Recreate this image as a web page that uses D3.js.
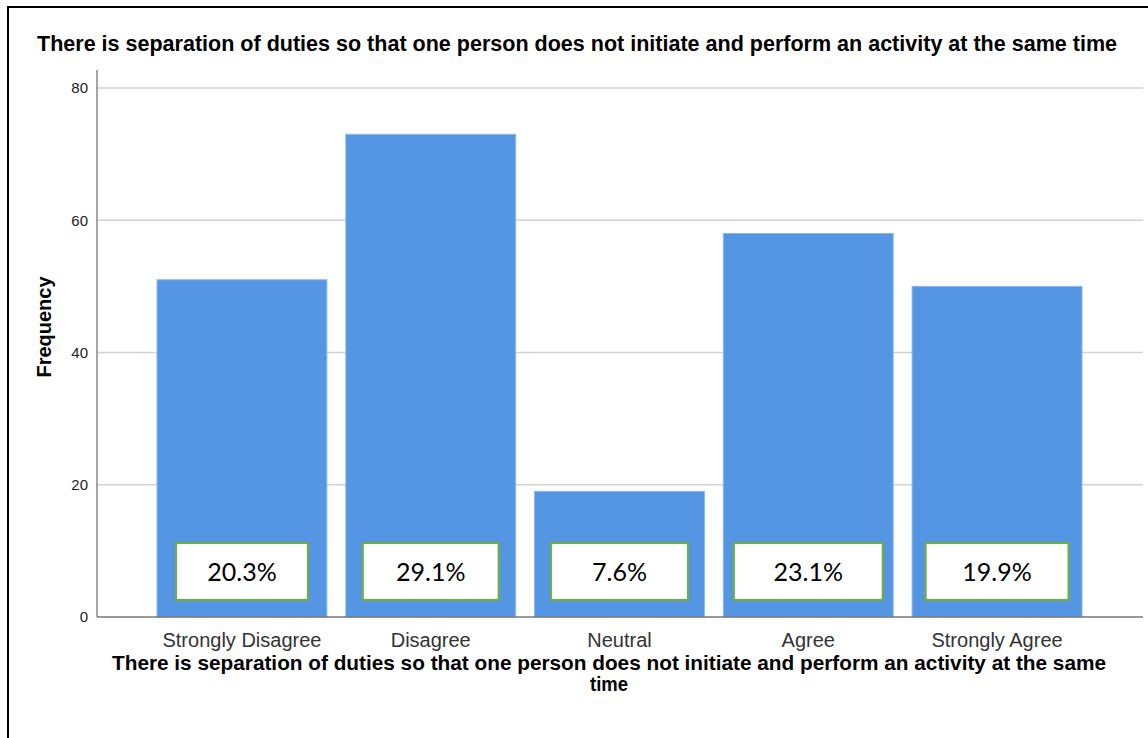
<!DOCTYPE html>
<html>
<head>
<meta charset="utf-8">
<script src="https://cdn.jsdelivr.net/npm/d3@7"></script>
<style>
  body { margin: 0; background: #fff; }
  svg { display: block; }
</style>
</head>
<body>
<svg width="1148" height="738"></svg>
<script>
// Responses and counts
var categories = ["Strongly Disagree", "Disagree", "Neutral", "Agree", "Strongly Agree"];
var counts = [51, 73, 19, 58, 50];
var percentLabels = ["20.3%", "29.1%", "7.6%", "23.1%", "19.9%"];
var yTicks = [0, 20, 40, 60, 80];
var boxWidths = [132, 136, 137, 149, 143];

var question = "There is separation of duties so that one person does not initiate and perform an activity at the same time";

var svg = d3.select("svg"),
    width = +svg.attr("width"),
    height = +svg.attr("height");

// frame round the whole chart
svg.append("rect")
    .attr("x", 8).attr("y", 7)
    .attr("width", 1200).attr("height", 800)
    .attr("fill", "none")
    .attr("stroke", "#000")
    .attr("stroke-width", 2);

var axisLeft = 97, axisRight = 1143;

var x = d3.scaleBand()
    .domain(categories)
    .range([157, 1082])
    .paddingInner(0.1)
    .paddingOuter(0);

var y = d3.scaleLinear()
    .domain([0, 80])
    .range([617, 88]);

// gridlines
svg.append("g")
    .selectAll("line")
    .data(yTicks.filter(d => d > 0))
    .enter()
    .append("line")
    .attr("x1", axisLeft).attr("x2", axisRight)
    .attr("y1", d => y(d)).attr("y2", d => y(d))
    .attr("stroke", "#d2d2d2")
    .attr("stroke-width", 1.5);

// bars
svg.append("g")
    .selectAll("rect")
    .data(counts)
    .enter()
    .append("rect")
    .attr("x", (d, i) => x(categories[i]))
    .attr("y", d => y(d))
    .attr("width", x.bandwidth())
    .attr("height", d => y(0) - y(d))
    .attr("fill", "#5596e4")
    .attr("stroke", "#8db8ee")
    .attr("stroke-width", 1);

// y axis
var yAxis = svg.append("g")
    .attr("transform", "translate(" + axisLeft + ",0)")
    .call(d3.axisLeft(y).tickValues(yTicks).tickSize(0).tickPadding(9));
yAxis.select(".domain").remove();
yAxis.selectAll("text")
    .attr("font-family", "Liberation Sans, Arial, sans-serif")
    .attr("font-size", 15)
    .attr("fill", "#222");

svg.append("line")
    .attr("x1", axisLeft).attr("x2", axisLeft)
    .attr("y1", 70).attr("y2", y(0))
    .attr("stroke", "#888")
    .attr("stroke-width", 1.5);

// x axis
var xAxis = svg.append("g")
    .attr("transform", "translate(0," + y(0) + ")")
    .call(d3.axisBottom(x).tickSize(0).tickPadding(16));
xAxis.select(".domain").remove();
xAxis.selectAll("text")
    .attr("font-family", "Liberation Sans, Arial, sans-serif")
    .attr("font-size", 20)
    .attr("fill", "#333");

svg.append("line")
    .attr("x1", axisLeft).attr("x2", axisRight)
    .attr("y1", y(0)).attr("y2", y(0))
    .attr("stroke", "#777")
    .attr("stroke-width", 1.5);

// percentage boxes
var boxes = svg.append("g")
    .selectAll("g")
    .data(percentLabels)
    .enter()
    .append("g")
    .attr("transform", (d, i) => "translate(" + (x(categories[i]) + x.bandwidth() / 2) + ",0)");

boxes.append("rect")
    .attr("x", (d, i) => -boxWidths[i] / 2)
    .attr("y", 543)
    .attr("width", (d, i) => boxWidths[i])
    .attr("height", 57)
    .attr("fill", "#fff")
    .attr("stroke", "#70ad47")
    .attr("stroke-width", 2.2);

boxes.append("text")
    .attr("x", 0)
    .attr("y", 581)
    .attr("text-anchor", "middle")
    .attr("font-family", "Lato, Carlito, Calibri, sans-serif")
    .attr("font-size", 25)
    .attr("fill", "#000")
    .text(d => d);

// titles
svg.append("text")
    .attr("x", 577)
    .attr("y", 51)
    .attr("text-anchor", "middle")
    .attr("font-family", "Liberation Sans, Arial, sans-serif")
    .attr("font-weight", "bold")
    .attr("font-size", 22)
    .attr("textLength", 1080)
    .attr("lengthAdjust", "spacingAndGlyphs")
    .text(question);

svg.append("text")
    .attr("transform", "translate(51,327) rotate(-90)")
    .attr("text-anchor", "middle")
    .attr("font-family", "Liberation Sans, Arial, sans-serif")
    .attr("font-weight", "bold")
    .attr("font-size", 20)
    .text("Frequency");

var words = question.split(" ");
svg.append("text")
    .attr("x", 609)
    .attr("y", 670)
    .attr("text-anchor", "middle")
    .attr("font-family", "Liberation Sans, Arial, sans-serif")
    .attr("font-weight", "bold")
    .attr("font-size", 21)
    .attr("textLength", 994)
    .attr("lengthAdjust", "spacingAndGlyphs")
    .text(words.slice(0, -1).join(" "));

svg.append("text")
    .attr("x", 609)
    .attr("y", 691)
    .attr("text-anchor", "middle")
    .attr("font-family", "Liberation Sans, Arial, sans-serif")
    .attr("font-weight", "bold")
    .attr("font-size", 21)
    .attr("textLength", 38)
    .attr("lengthAdjust", "spacingAndGlyphs")
    .text(words[words.length - 1]);
</script>
</body>
</html>
